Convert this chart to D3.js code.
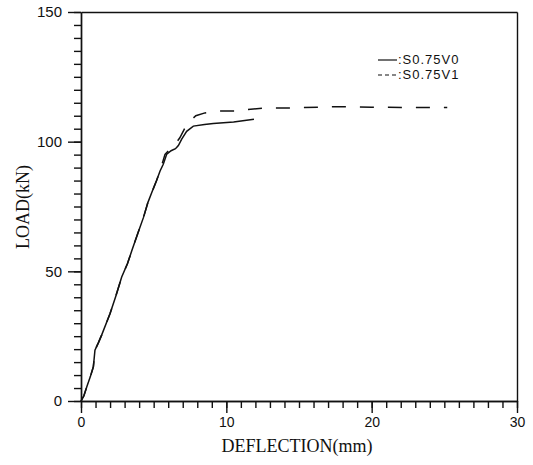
<!DOCTYPE html>
<html>
<head>
<meta charset="utf-8">
<script src="https://cdn.jsdelivr.net/npm/d3@7"></script>
<style>
  body { margin: 0; background: #fff; }
  .tick text { font-family: "Liberation Sans", Arial, sans-serif; font-size: 14px; fill: #111; }
  .domain, .tick line { stroke: #111; stroke-width: 1.4; }
  .title { font-family: "Liberation Serif", "Times New Roman", serif; font-size: 18px; fill: #111; }
  .legend { font-family: "Liberation Sans", Arial, sans-serif; font-size: 13px; letter-spacing: 1px; fill: #111; }
</style>
</head>
<body>
<svg width="533" height="465"></svg>
<script>
const svg = d3.select('svg');

// series
const seriesNames = [':S0.75V0', ':S0.75V1'];
const v0Defl = [0, 0.2, 0.4, 0.65, 0.85, 0.96, 1.2, 1.42, 2.0, 2.4, 2.8, 3.2, 3.5, 3.9, 4.3, 4.6, 4.87, 5.2, 5.44, 5.66, 5.9, 6.2, 6.5, 6.7, 6.93, 7.27, 7.73, 8.5, 9.1, 10.5, 11.9];
const v0Load = [0, 2, 5.5, 9.5, 13.2, 19.6, 22.5, 25.4, 33.7, 40.5, 47.8, 53, 58, 64.5, 70.8, 76.5, 80.4, 85, 88.7, 91.3, 95.2, 96.5, 97.3, 98.5, 101, 104, 106, 106.6, 107, 107.6, 108.6];
const v1Defl = [0, 0.2, 0.4, 0.65, 0.85, 0.96, 1.2, 1.42, 2.0, 2.4, 2.8, 3.2, 3.5, 3.9, 4.3, 4.6, 4.87, 5.2, 5.44, 5.78, 6.1, 6.47, 6.8, 7.16, 7.38, 7.9, 8.53, 9.57, 10.7, 11.4, 12.8, 14.6, 17.3, 20, 22.5, 25.2];
const v1Load = [0, 2, 5.5, 9.5, 13.2, 19.6, 22.5, 25.4, 33.7, 40.5, 47.8, 53, 58, 64.5, 70.8, 76.5, 80.4, 85, 88.7, 95.1, 97, 99, 101.5, 105.4, 107.3, 110, 111.1, 111.8, 111.8, 112.4, 113, 113, 113.5, 113.3, 113.2, 113.2];

const xMajor = [0, 10, 20, 30];
const yMajor = [0, 50, 100, 150];

const x = d3.scaleLinear().domain([0, 30]).range([81, 517]);
const y = d3.scaleLinear().domain([0, 150]).range([401, 12]);

// frame: top and right sides
svg.append('g').attr('transform', `translate(0,${y(150)})`)
    .call(d3.axisTop(x).tickValues([]).tickSizeOuter(0));
svg.append('g').attr('transform', `translate(${x(30)},0)`)
    .call(d3.axisRight(y).tickValues([]).tickSizeOuter(0));

// bottom axis, minor then major ticks
svg.append('g').attr('transform', `translate(0,${y(0)})`)
    .call(d3.axisBottom(x).tickValues(d3.range(0, 31, 1)).tickFormat('').tickSize(7).tickSizeOuter(0));
svg.append('g').attr('transform', `translate(0,${y(0)})`)
    .call(d3.axisBottom(x).tickValues(xMajor).tickSize(12).tickPadding(4).tickSizeOuter(0));

// left axis
svg.append('g').attr('transform', `translate(${x(0)},0)`)
    .call(d3.axisLeft(y).tickValues(d3.range(0, 151, 5)).tickFormat('').tickSize(7).tickSizeOuter(0));
svg.append('g').attr('transform', `translate(${x(0)},0)`)
    .call(d3.axisLeft(y).tickValues(yMajor).tickSize(13).tickPadding(6).tickSizeOuter(0))
    .selectAll('text').style('font-size', '15px');

// curves
const line = d3.line().x(d => x(d[0])).y(d => y(d[1]));
const v0 = d3.zip(v0Defl, v0Load);
const v1 = d3.zip(v1Defl, v1Load);

svg.append('path').datum(v1)
    .attr('fill', 'none').attr('stroke', '#111').attr('stroke-width', 1.5)
    .attr('stroke-dasharray', '14,14')
    .attr('d', line);
svg.append('path').datum(v0)
    .attr('fill', 'none').attr('stroke', '#111').attr('stroke-width', 1.5)
    .attr('d', line);

// axis titles
svg.append('text').attr('class', 'title')
    .attr('x', 297).attr('y', 452).attr('text-anchor', 'middle')
    .text('DEFLECTION(mm)');
svg.append('text').attr('class', 'title')
    .attr('transform', 'translate(29,207) rotate(-90)').attr('text-anchor', 'middle')
    .text('LOAD(kN)');

// legend
const legend = svg.append('g');
const dashes = [null, '4,3'];
seriesNames.forEach((name, i) => {
  const ly = 60 + i * 15;
  legend.append('line')
      .attr('x1', 378).attr('x2', 397).attr('y1', ly).attr('y2', ly)
      .attr('stroke', '#111').attr('stroke-width', 1.2)
      .attr('stroke-dasharray', dashes[i]);
  legend.append('text').attr('class', 'legend')
      .attr('x', 398).attr('y', ly + 4)
      .text(name);
});
</script>
</body>
</html>
